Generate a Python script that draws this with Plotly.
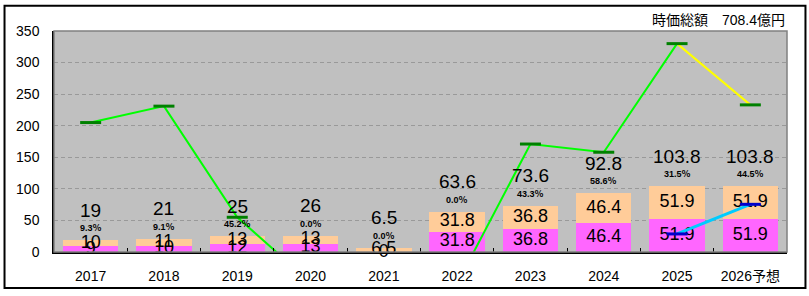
import plotly.graph_objects as go

categories = ["2017", "2018", "2019", "2020", "2021", "2022", "2023", "2024", "2025", "2026予想"]
lower_vals = [9, 10, 12, 13, 0, 31.8, 36.8, 46.4, 51.9, 51.9]
upper_vals = [10, 11, 13, 13, 6.5, 31.8, 36.8, 46.4, 51.9, 51.9]
total_vals = [19, 21, 25, 26, 6.5, 63.6, 73.6, 92.8, 103.8, 103.8]
total_labels = ["19", "21", "25", "26", "6.5", "63.6", "73.6", "92.8", "103.8", "103.8"]
lower_labels = ["9", "10", "12", "13", "0", "31.8", "36.8", "46.4", "51.9", "51.9"]
upper_labels = ["10", "11", "13", "13", "6.5", "31.8", "36.8", "46.4", "51.9", "51.9"]
pct_labels = ["9.3％", "9.1％", "45.2％", "0.0％", "0.0％", "0.0％", "43.3％", "58.6％", "31.5％", "44.5％"]
price_vals = [205, 231, 55, -48, -48, -50, 171, 158, 330, 233]
blue_vals = [None, None, None, None, None, None, None, None, 28.6, 75.5]
title_text = "時価総額　708.4億円"

FONT = "Liberation Sans, Arial, Noto Sans CJK JP"

fig = go.Figure()
fig.add_trace(go.Bar(x=categories, y=lower_vals, marker=dict(color="#FF66FF", line=dict(width=0)), showlegend=False))
fig.add_trace(go.Bar(x=categories, y=upper_vals, marker=dict(color="#FFCC99", line=dict(width=0)), showlegend=False))

# segment labels
lower_mid = [v / 2 for v in lower_vals]
upper_mid = [l + u / 2 for l, u in zip(lower_vals, upper_vals)]
fig.add_trace(go.Scatter(x=categories, y=lower_mid, mode="text", text=lower_labels,
                         textfont=dict(size=18, color="black", family=FONT), cliponaxis=False, showlegend=False))
fig.add_trace(go.Scatter(x=categories, y=upper_mid, mode="text", text=upper_labels,
                         textfont=dict(size=18, color="black", family=FONT), cliponaxis=False, showlegend=False))

# price line
fig.add_trace(go.Scatter(x=categories[:9], y=price_vals[:9], mode="lines",
                         line=dict(color="#00FF00", width=2), showlegend=False))
fig.add_trace(go.Scatter(x=categories[8:], y=price_vals[8:], mode="lines",
                         line=dict(color="#FFFF00", width=2), showlegend=False))
fig.add_trace(go.Scatter(x=categories, y=price_vals, mode="markers",
                         marker=dict(symbol="line-ew", size=15, line=dict(color="#008000", width=3)),
                         showlegend=False))
# blue line
fig.add_trace(go.Scatter(x=categories, y=blue_vals, mode="lines",
                         line=dict(color="#00CCFF", width=3), showlegend=False))
fig.add_trace(go.Scatter(x=categories, y=blue_vals, mode="markers",
                         marker=dict(symbol="line-ew", size=15, line=dict(color="#0000CC", width=3)),
                         showlegend=False))

for i, (t, tl, p) in enumerate(zip(total_vals, total_labels, pct_labels)):
    fig.add_annotation(x=i, y=t, text=tl, showarrow=False, yshift=30, yanchor="middle",
                       font=dict(size=19, color="black", family=FONT))
    fig.add_annotation(x=i, y=t, text="<b>" + p + "</b>", showarrow=False, yshift=12, yanchor="middle",
                       font=dict(size=9, color="black", family=FONT))

fig.add_annotation(x=1.0, y=1.049, xref="paper", yref="paper", text=title_text, showarrow=False,
                   xanchor="right", yanchor="middle", font=dict(size=14, color="black", family=FONT))

# plot area border and outer frame
fig.add_shape(type="rect", xref="paper", yref="paper", x0=0, x1=1, y0=0, y1=1,
              line=dict(color="#808080", width=1.5), layer="above")
fig.add_shape(type="rect", xref="paper", yref="paper", x0=-0.0675, x1=1.0252, y0=-0.163, y1=1.1138,
              line=dict(color="black", width=2), layer="above")

fig.update_layout(
    width=809, height=296,
    margin=dict(l=54, r=22, t=31, b=41),
    barmode="stack", bargap=0.245,
    plot_bgcolor="#C0C0C0", paper_bgcolor="white",
    font=dict(family=FONT, color="black"),
)
fig.update_xaxes(type="category", range=[-0.5, 9.5], showline=True, linecolor="black", linewidth=1.5,
                 ticks="inside", tickson="boundaries", ticklen=4, tickcolor="black",
                 tickfont=dict(size=14), showgrid=False, ticklabelstandoff=10, tickangle=0)
fig.update_yaxes(range=[0, 350], dtick=50, showline=True, linecolor="black", linewidth=1.5,
                 showgrid=True, gridcolor="#999999", griddash="4px,3px", gridwidth=1,
                 tickfont=dict(size=14), zeroline=False, ticklabelstandoff=10)

fig.write_html("out.html")
